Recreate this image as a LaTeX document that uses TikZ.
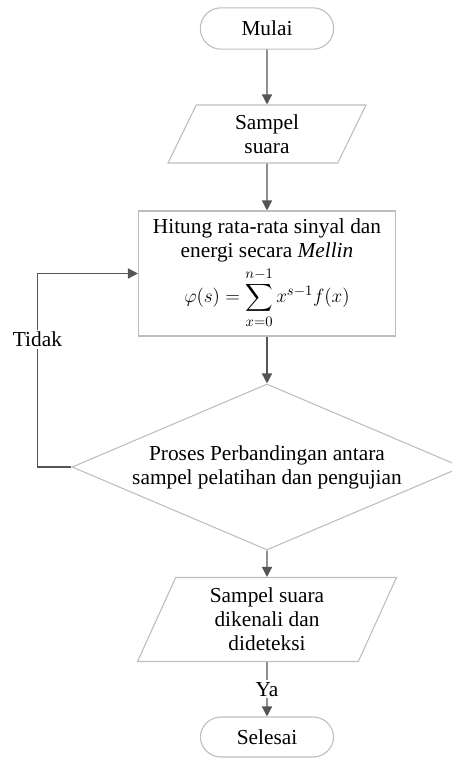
\documentclass[tikz,border=0pt]{standalone}
\usepackage{fontspec}
\setmainfont{Liberation Serif}
\usepackage{amsmath}
\usetikzlibrary{shapes.geometric,arrows.meta}
\definecolor{linegray}{HTML}{555555}
\definecolor{boxgray}{HTML}{BDBDBD}
\tikzset{>={Triangle[length=7.5pt,width=7.5pt]}}
\tikzset{
  base/.style={draw=boxgray,line width=0.8pt,align=center,font=\fontsize{16}{18}\selectfont,inner sep=2pt},
  term/.style={base,rounded corners=15.5pt,minimum width=100pt,minimum height=31pt},
  io/.style={base,trapezium,trapezium left angle=#1,trapezium right angle=180-#1,trapezium stretches body},
  proc/.style={base,rectangle,minimum width=192.75pt,minimum height=93.75pt},
  decide/.style={base,diamond,minimum width=292.5pt,minimum height=124.5pt,shape aspect=2.35},
  flow/.style={->,draw=linegray,line width=1.1pt},
  lbl/.style={fill=white,font=\fontsize{16}{18}\selectfont,inner sep=1.5pt}
}

\begin{document}
\begin{tikzpicture}[x=0.75pt,y=-0.75pt]
    \useasboundingbox (0,0) rectangle (451,758);
      \node[term] at (267, 28.5)   (mulai) {Mulai};
      \node[io=57.5,minimum width=148.5pt,minimum height=43.5pt] at (267, 134)   (sampel) {Sampel\\suara};
      \node[proc] at (267, 273.5)   (hitung) {Hitung rata-rata sinyal dan\\energi secara \textit{Mellin}\\[3pt]
            {\fontsize{15}{17}\selectfont$\displaystyle \varphi(s)=\sum_{x=0}^{n-1}x^{s-1}f(x)$}};
      \node[decide] at (267, 467)   (banding) {Proses Perbandingan antara\\sampel pelatihan dan pengujian};
      \node[io=60.8,minimum width=194.25pt,minimum height=63pt] at (267, 619.5)   (kenal) {Sampel suara\\dikenali dan\\dideteksi};
      \node[term,minimum height=30pt] at (267, 737)   (selesai) {Selesai};
     \draw[flow] (mulai) -- (sampel);
     \draw[flow] (sampel) -- (hitung);
     \draw[flow] (hitung) -- (banding);
     \draw[flow] (banding) -- (kenal);
     \draw[flow] (kenal) -- node[lbl] (ya) {Ya} (selesai);
     \draw[flow] (banding.west) -- ++(-34,0) |- node[lbl,pos=0.33] (tidak) {Tidak} (hitung.west);
     \end{tikzpicture}
\end{document}
